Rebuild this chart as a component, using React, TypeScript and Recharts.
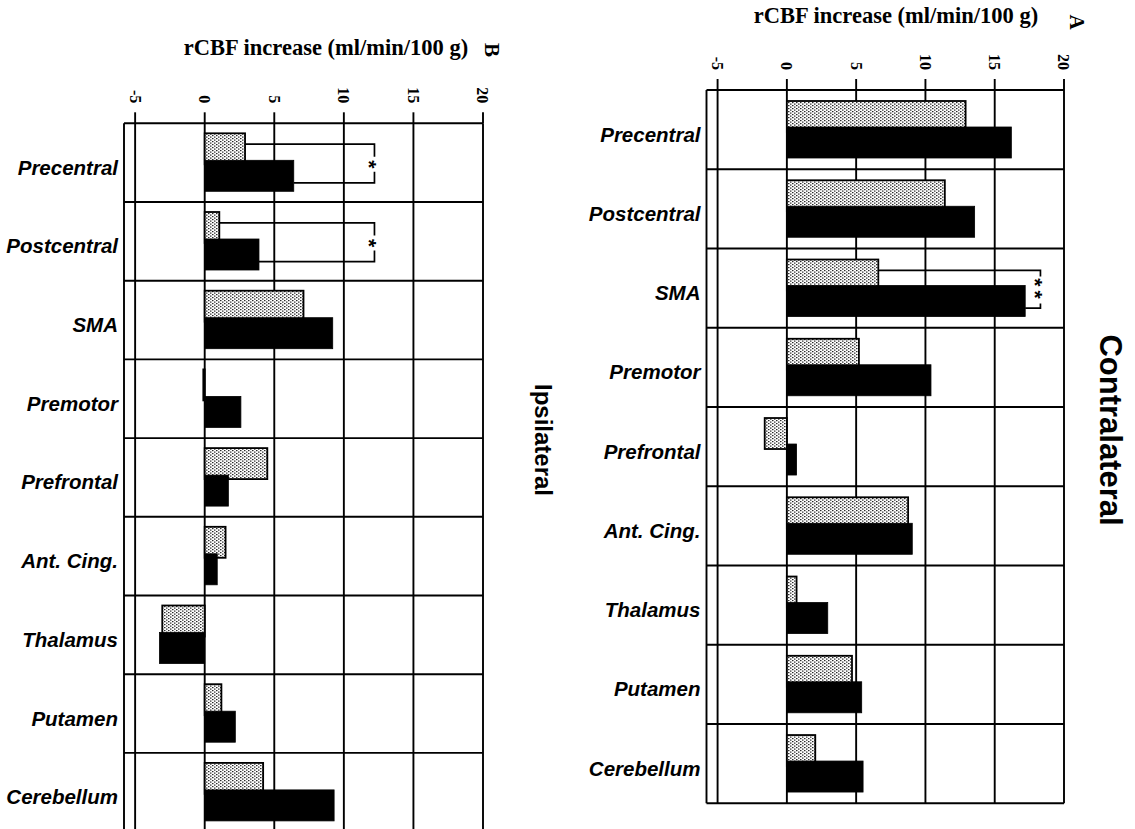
import { BarChart, Bar, XAxis, YAxis, CartesianGrid } from 'recharts';

const regions = ['Precentral', 'Postcentral', 'SMA', 'Premotor', 'Prefrontal', 'Ant. Cing.', 'Thalamus', 'Putamen', 'Cerebellum'];
const xTicks = [-5, 0, 5, 10, 15, 20];

// B: ipsilateral
const ipsiDotted = [2.9, 1.05, 7.1, -0.1, 4.5, 1.5, -3.05, 1.2, 4.2];
const ipsiSolid = [6.4, 3.9, 9.2, 2.6, 1.7, 0.9, -3.25, 2.2, 9.3];
const ipsiSig = ['*', '*', '', '', '', '', '', '', ''];
const ipsiBracketAt = 12.2;

// A: contralateral
const contraDotted = [12.9, 11.4, 6.6, 5.2, -1.6, 8.75, 0.7, 4.7, 2.05];
const contraSolid = [16.2, 13.55, 17.2, 10.4, 0.7, 9.05, 2.95, 5.4, 5.5];
const contraSig = ['', '', '**', '', '', '', '', '', ''];
const contraBracketAt = 18.3;

const DOMAIN: [number, number] = [-5.8, 20];
const SERIF = '"Liberation Serif", "Times New Roman", serif';
const SANS = '"Liberation Sans", Arial, sans-serif';

const build = (dotted: number[], solid: number[], sig: string[]) =>
  regions.map((name, i) => ({ name, dotted: dotted[i], solid: solid[i], sig: sig[i] }));

const ipsiData = build(ipsiDotted, ipsiSolid, ipsiSig);
const contraData = build(contraDotted, contraSolid, contraSig);

function XTick({ x, y, payload }: any) {
  return (
    <text
      x={x}
      y={y}
      transform={`rotate(90 ${x} ${y})`}
      textAnchor="end"
      dy="0.35em"
      fontFamily={SERIF}
      fontWeight="bold"
      fontSize={16}
      fill="#000"
    >
      {payload.value}
    </text>
  );
}

function YTick({ x, y, payload }: any) {
  return (
    <text
      x={x}
      y={y}
      dy={12}
      textAnchor="end"
      fontFamily={SANS}
      fontWeight="bold"
      fontStyle="italic"
      fontSize={20.5}
      fill="#000"
    >
      {payload.value}
    </text>
  );
}

function makeShape(kind: 'dotted' | 'solid', fill: string, bracketAt: number) {
  return (p: any) => {
    const { x, y, width, height, payload } = p;
    const v = payload[kind];
    const rx = Math.min(x, x + width);
    const rw = Math.abs(width);
    const sig: string = payload.sig;
    const half = sig.length * 6.5 + 1;
    let extra = null;
    if (sig && v) {
      const ppu = width / v;
      const bx = x + bracketAt * ppu;
      const end = x + width;
      if (kind === 'dotted') {
        const ay = y + height * 0.35;
        const sy = y + height;
        extra = (
          <g>
            <polyline
              points={`${end},${ay} ${bx},${ay} ${bx},${sy - half}`}
              fill="none"
              stroke="#000"
              strokeWidth={1.7}
            />
            <text
              x={bx}
              y={sy}
              transform={`rotate(90 ${bx} ${sy})`}
              dy="0.57em"
              textAnchor="middle"
              letterSpacing={sig.length > 1 ? 4 : 0}
              fontFamily={SANS}
              fontWeight="bold"
              fontSize={21}
              fill="#000"
            >
              {sig}
            </text>
          </g>
        );
      } else {
        const ay = y + height * 0.73;
        extra = (
          <polyline
            points={`${end},${ay} ${bx},${ay} ${bx},${y + 4 + half}`}
            fill="none"
            stroke="#000"
            strokeWidth={1.7}
          />
        );
      }
    }
    return (
      <g>
        <rect
          x={rx}
          y={y}
          width={rw}
          height={height}
          fill={fill}
          stroke="#000"
          strokeWidth={kind === 'dotted' ? 1.8 : 0.8}
        />
        {extra}
      </g>
    );
  };
}

function Panel({ data, id, left, width, height, margin, yWidth, barGap, bracketAt }: any) {
  return (
    <div style={{ position: 'absolute', left, top: 0 }}>
      <BarChart
        layout="vertical"
        width={width}
        height={height}
        data={data}
        margin={margin}
        barGap={barGap}
      >
        <defs>
          <pattern id={id} width={4} height={3} patternUnits="userSpaceOnUse">
            <rect width={4} height={3} fill="#fff" />
            <rect x={0} y={0} width={1.5} height={1.2} fill="#2a2a2a" />
            <rect x={2} y={1.5} width={1.5} height={1.2} fill="#2a2a2a" />
          </pattern>
        </defs>
        <CartesianGrid
          stroke="#000"
          strokeWidth={1.9}
          horizontalCoordinatesGenerator={({ offset }: any) =>
            regions
              .map((_, i) => offset.top + (i * offset.height) / regions.length)
              .concat(offset.top + offset.height)
          }
        />
        <XAxis
          type="number"
          orientation="top"
          domain={DOMAIN}
          ticks={xTicks}
          allowDataOverflow
          interval={0}
          height={30}
          axisLine={false}
          tickLine={{ stroke: '#000', strokeWidth: 1.9 }}
          tickSize={11}
          tickMargin={9}
          tick={<XTick />}
        />
        <YAxis
          type="category"
          dataKey="name"
          width={yWidth}
          interval={0}
          axisLine={false}
          tickLine={false}
          tickSize={0}
          tickMargin={6}
          tick={<YTick />}
        />
        <Bar
          dataKey="dotted"
          barSize={31}
          isAnimationActive={false}
          shape={makeShape('dotted', `url(#${id})`, bracketAt)}
        />
        <Bar
          dataKey="solid"
          barSize={31}
          isAnimationActive={false}
          shape={makeShape('solid', '#000', bracketAt)}
        />
      </BarChart>
    </div>
  );
}

export default function App() {
  const title = 'rCBF increase (ml/min/100 g)';
  return (
    <div
      style={{
        position: 'absolute',
        left: 0,
        top: 0,
        width: 1135,
        height: 829,
        overflow: 'hidden',
        background: '#fff',
      }}
    >
      <Panel
        data={ipsiData}
        id="dotsB"
        left={0}
        width={560}
        height={840}
        margin={{ top: 93.3, right: 77, bottom: 8.4, left: 0 }}
        yWidth={124}
        barGap={-4}
        bracketAt={ipsiBracketAt}
      />
      <Panel
        data={contraData}
        id="dotsA"
        left={580}
        width={555}
        height={829}
        margin={{ top: 60, right: 71, bottom: 25.7, left: 0 }}
        yWidth={126.5}
        barGap={-5}
        bracketAt={contraBracketAt}
      />
      <svg
        width={1135}
        height={829}
        style={{ position: 'absolute', left: 0, top: 0, pointerEvents: 'none' }}
      >
        <text x={326} y={55} textAnchor="middle" fontFamily={SERIF} fontWeight="bold" fontSize={22.5}>
          {title}
        </text>
        <text x={896} y={23} textAnchor="middle" fontFamily={SERIF} fontWeight="bold" fontSize={22.5}>
          {title}
        </text>
        <text x={492} y={50} transform="rotate(90 492 50)" textAnchor="middle" dy="0.35em" fontFamily={SERIF} fontWeight="bold" fontSize={21}>
          B
        </text>
        <text x={1077} y={22} transform="rotate(90 1077 22)" textAnchor="middle" dy="0.35em" fontFamily={SERIF} fontWeight="bold" fontSize={21}>
          A
        </text>
        <text x={543} y={440} transform="rotate(90 543 440)" textAnchor="middle" dy="0.35em" fontFamily={SANS} fontWeight="bold" fontSize={24}>
          Ipsilateral
        </text>
        <text x={1111} y={430} transform="rotate(90 1111 430)" textAnchor="middle" dy="0.35em" fontFamily={SANS} fontWeight="bold" fontSize={31}>
          Contralateral
        </text>
      </svg>
    </div>
  );
}
